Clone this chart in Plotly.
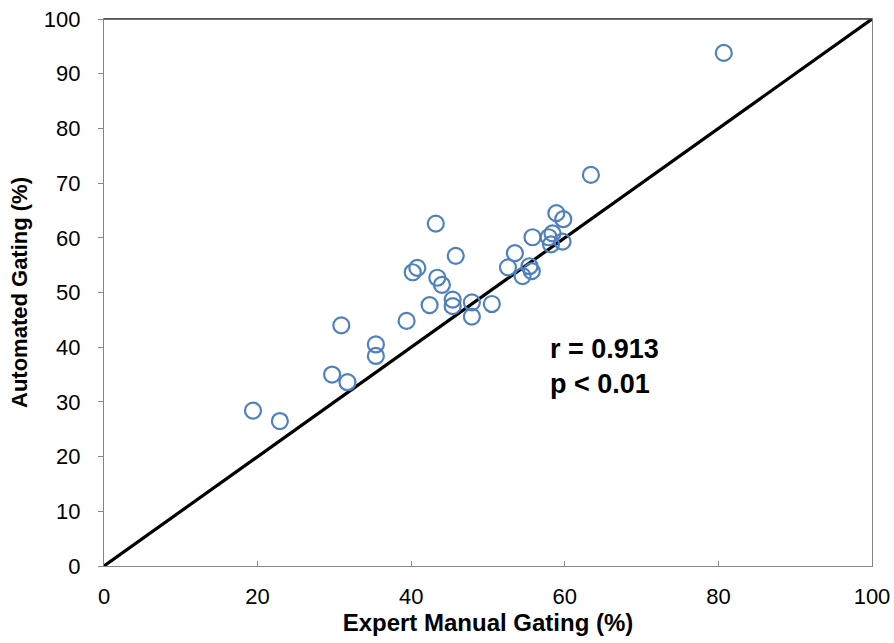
import plotly.graph_objects as go

expert_manual = [19.4, 22.9, 30.9, 29.7, 31.7, 35.4, 35.4, 39.4, 42.4, 43.2,
                 40.2, 40.8, 43.4, 44.0, 45.8, 45.4, 45.4, 47.9, 47.9, 50.5,
                 52.6, 53.5, 54.5, 55.4, 55.7, 55.8, 57.9, 58.4, 58.2, 59.7,
                 58.9, 59.8, 63.4, 80.7]
automated = [28.4, 26.5, 44.0, 35.0, 33.6, 40.5, 38.4, 44.8, 47.7, 62.6,
             53.7, 54.5, 52.7, 51.4, 56.7, 48.7, 47.5, 48.2, 45.6, 47.9,
             54.6, 57.2, 53.0, 54.8, 53.9, 60.1, 60.1, 60.8, 58.8, 59.3,
             64.5, 63.4, 71.5, 93.8]
identity_line = [0, 100]
tick_vals_x = [0, 20, 40, 60, 80, 100]
tick_vals_y = [0, 10, 20, 30, 40, 50, 60, 70, 80, 90, 100]
stats_text = "r = 0.913<br>p < 0.01"

FONT = "Liberation Sans, Arial, sans-serif"

fig = go.Figure()
fig.add_trace(go.Scatter(x=identity_line, y=identity_line, mode="lines",
                         line=dict(color="black", width=3.2), hoverinfo="skip",
                         showlegend=False))
fig.add_trace(go.Scatter(x=expert_manual, y=automated, mode="markers",
                         marker=dict(symbol="circle-open", size=16,
                                     color="#4f81bd", line=dict(width=2.2, color="#4f81bd")),
                         showlegend=False))

fig.add_annotation(x=57.8, y=36.4, xref="x", yref="y", text="<b>" + stats_text + "</b>",
                   showarrow=False, xanchor="left", yanchor="middle", align="left",
                   font=dict(family=FONT, size=27, color="black"))

# dark top border of the plot area
fig.add_shape(type="line", xref="paper", yref="paper", x0=0, x1=1, y0=1, y1=1,
              line=dict(color="#404040", width=1.3))

axis_common = dict(range=[0, 100], showgrid=False, zeroline=False, showline=True,
                   linecolor="#868686", linewidth=1.3, mirror=True, automargin=False,
                   tickfont=dict(family=FONT, size=22, color="black"),
                   ticklen=5, tickcolor="#868686", tickwidth=1)

fig.update_xaxes(**axis_common, tickvals=tick_vals_x, ticks="inside", ticklabelstandoff=10,
                 title=dict(text="<b>Expert Manual Gating (%)</b>", standoff=6,
                            font=dict(family=FONT, size=24, color="black")))
fig.update_yaxes(**axis_common, tickvals=tick_vals_y, ticks="outside", ticklabelstandoff=13,
                 title=dict(text="<b>Automated Gating (%)</b>", standoff=10,
                            font=dict(family=FONT, size=22, color="black")))

fig.update_layout(width=894, height=643, margin=dict(l=104, r=22, t=19, b=77),
                  plot_bgcolor="white", paper_bgcolor="white")

fig.write_html("out.html")
